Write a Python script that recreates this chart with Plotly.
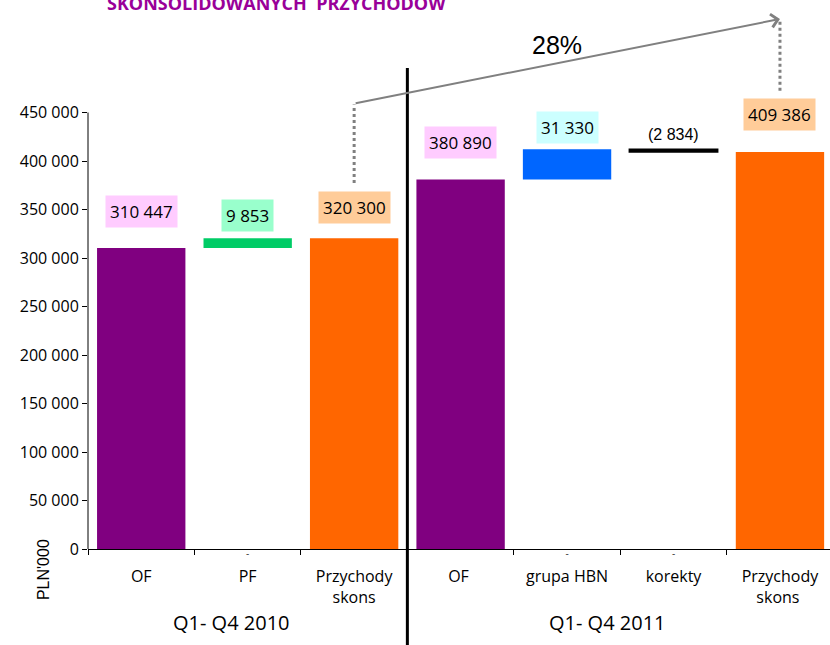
import plotly.graph_objects as go

# dane (PLN'000)
kategorie = ["OF", "PF", "Przychody<br>skons", "OF ", "grupa HBN", "korekty", "Przychody<br>skons "]
podstawa = [0, 310447, 0, 0, 380890, 409386, 0]
wartosci = [310447, 9853, 320300, 380890, 31330, 2834, 409386]
etykiety = ["310 447", "9 853", "320 300", "380 890", "31 330", "(2 834)", "409 386"]
grupy = ["Q1- Q4 2010", "Q1- Q4 2011"]
wzrost = "28%"

kolory = ["#800080", "#00CC66", "#FF6600", "#800080", "#0066FF", "#000000", "#FF6600"]
tla = ["#FFCCFF", "#99FFCC", "#FFCC99", "#FFCCFF", "#CCFFFF", None, "#FFCC99"]
przesuniecia = [36, 23, 31, 37, 22, 15, 37]

FONT = "Open Sans"
ARIAL = "Liberation Sans"

fig = go.Figure()
fig.add_trace(go.Bar(
    x=kategorie, y=wartosci, base=podstawa,
    marker=dict(color=kolory, line=dict(color=kolory, width=[0, 0, 0, 0, 0, 1.5, 0])),
    width=0.83, showlegend=False, hoverinfo="skip",
))

# kreski "-" pod slupkami plywajacymi
kreski = [k for k, p in zip(kategorie, podstawa) if p > 0]
fig.add_trace(go.Scatter(
    x=kreski, y=[0] * len(kreski), mode="text", text=["-"] * len(kreski),
    textposition="bottom center", textfont=dict(size=10, color="#333333"),
    cliponaxis=False, showlegend=False, hoverinfo="skip",
))

# etykiety wartosci
for k, p, v, t, bg, dy in zip(kategorie, podstawa, wartosci, etykiety, tla, przesuniecia):
    if bg:
        fig.add_annotation(x=k, y=p + v, yshift=dy, text=t, showarrow=False,
                           bgcolor=bg, borderpad=4,
                           font=dict(family=FONT, size=17, color="#000000"))
    else:
        fig.add_annotation(x=k, y=p + v, yshift=dy, text=t, showarrow=False,
                           font=dict(family=ARIAL, size=16, color="#000000"))

# strzalka wzrostu 28%
suma_2010 = wartosci[2]
suma_2011 = wartosci[6]
fig.add_annotation(x=kategorie[6], y=suma_2011 + 137000, ax=kategorie[2], ay=suma_2010 + 139000,
                   xref="x", yref="y", axref="x", ayref="y", text="", showarrow=True,
                   arrowhead=4, arrowsize=1.3, arrowwidth=2, arrowcolor="#808080", standoff=0)
fig.add_shape(type="line", x0=kategorie[2], x1=kategorie[2], y0=suma_2010 + 57000, y1=suma_2010 + 138000,
              xref="x", yref="y", line=dict(color="#808080", width=3, dash="dot"))
fig.add_shape(type="line", x0=kategorie[6], x1=kategorie[6], y0=suma_2011 + 63000, y1=suma_2011 + 135000,
              xref="x", yref="y", line=dict(color="#808080", width=3, dash="dot"))
fig.add_annotation(x=0.632, y=0.918, xref="paper", yref="paper", text=wzrost, showarrow=False,
                   xanchor="center", yanchor="middle",
                   font=dict(family=ARIAL, size=25, color="#000000"))

# separator okresow
fig.add_shape(type="line", x0=2.5, x1=2.5, y0=-0.175, y1=0.876, xref="x", yref="paper",
              line=dict(color="#000000", width=3))
# os Y (tylko do 450 000)
fig.add_shape(type="line", x0=0, x1=0, y0=0, y1=450000, xref="x domain", yref="y",
              line=dict(color="#000000", width=1))

# podpisy grup
for g, xg in zip(grupy, [0.85, 4.38]):
    fig.add_annotation(x=xg, y=-0.133, xref="x", yref="paper", text=g, showarrow=False,
                       xanchor="center", yanchor="middle",
                       font=dict(family=FONT, size=20, color="#000000"))

fig.add_annotation(x=-0.059, y=-0.038, xref="paper", yref="paper", text="PLN'000", textangle=-90,
                   xanchor="center", yanchor="middle",
                   showarrow=False, font=dict(family=ARIAL, size=16, color="#000000"))

# tytul (uciety u gory jak w oryginale)
fig.add_annotation(x=0.2547, y=0.994, xref="paper", yref="paper",
                   text="<b>SKONSOLIDOWANYCH\u00a0 PRZYCHODÓW</b>", showarrow=False,
                   xanchor="center", yanchor="middle",
                   font=dict(family=FONT, size=18, color="#990099"))

fig.update_layout(
    width=830, height=645,
    margin=dict(l=88, r=0, t=0, b=96),
    plot_bgcolor="white", paper_bgcolor="white",
    separators=", ",
    font=dict(family=FONT, size=16, color="#000000"),
    xaxis=dict(type="category", range=[-0.5, 6.47], showline=True, linecolor="#000000", linewidth=1,
               ticks="outside", tickson="boundaries", ticklen=5, tickcolor="#000000",
               showgrid=False, ticklabelstandoff=13, tickfont=dict(family=FONT, size=16)),
    yaxis=dict(range=[0, 566000], showline=False, showgrid=False, zeroline=False,
               tickvals=list(range(0, 450001, 50000)), tickformat=",d",
               ticks="outside", ticklen=5, tickcolor="#000000",
               tickfont=dict(family=FONT, size=16)),
)

fig.write_html("out.html", config={"displayModeBar": False},
               post_script="document.body.style.margin='0';")
